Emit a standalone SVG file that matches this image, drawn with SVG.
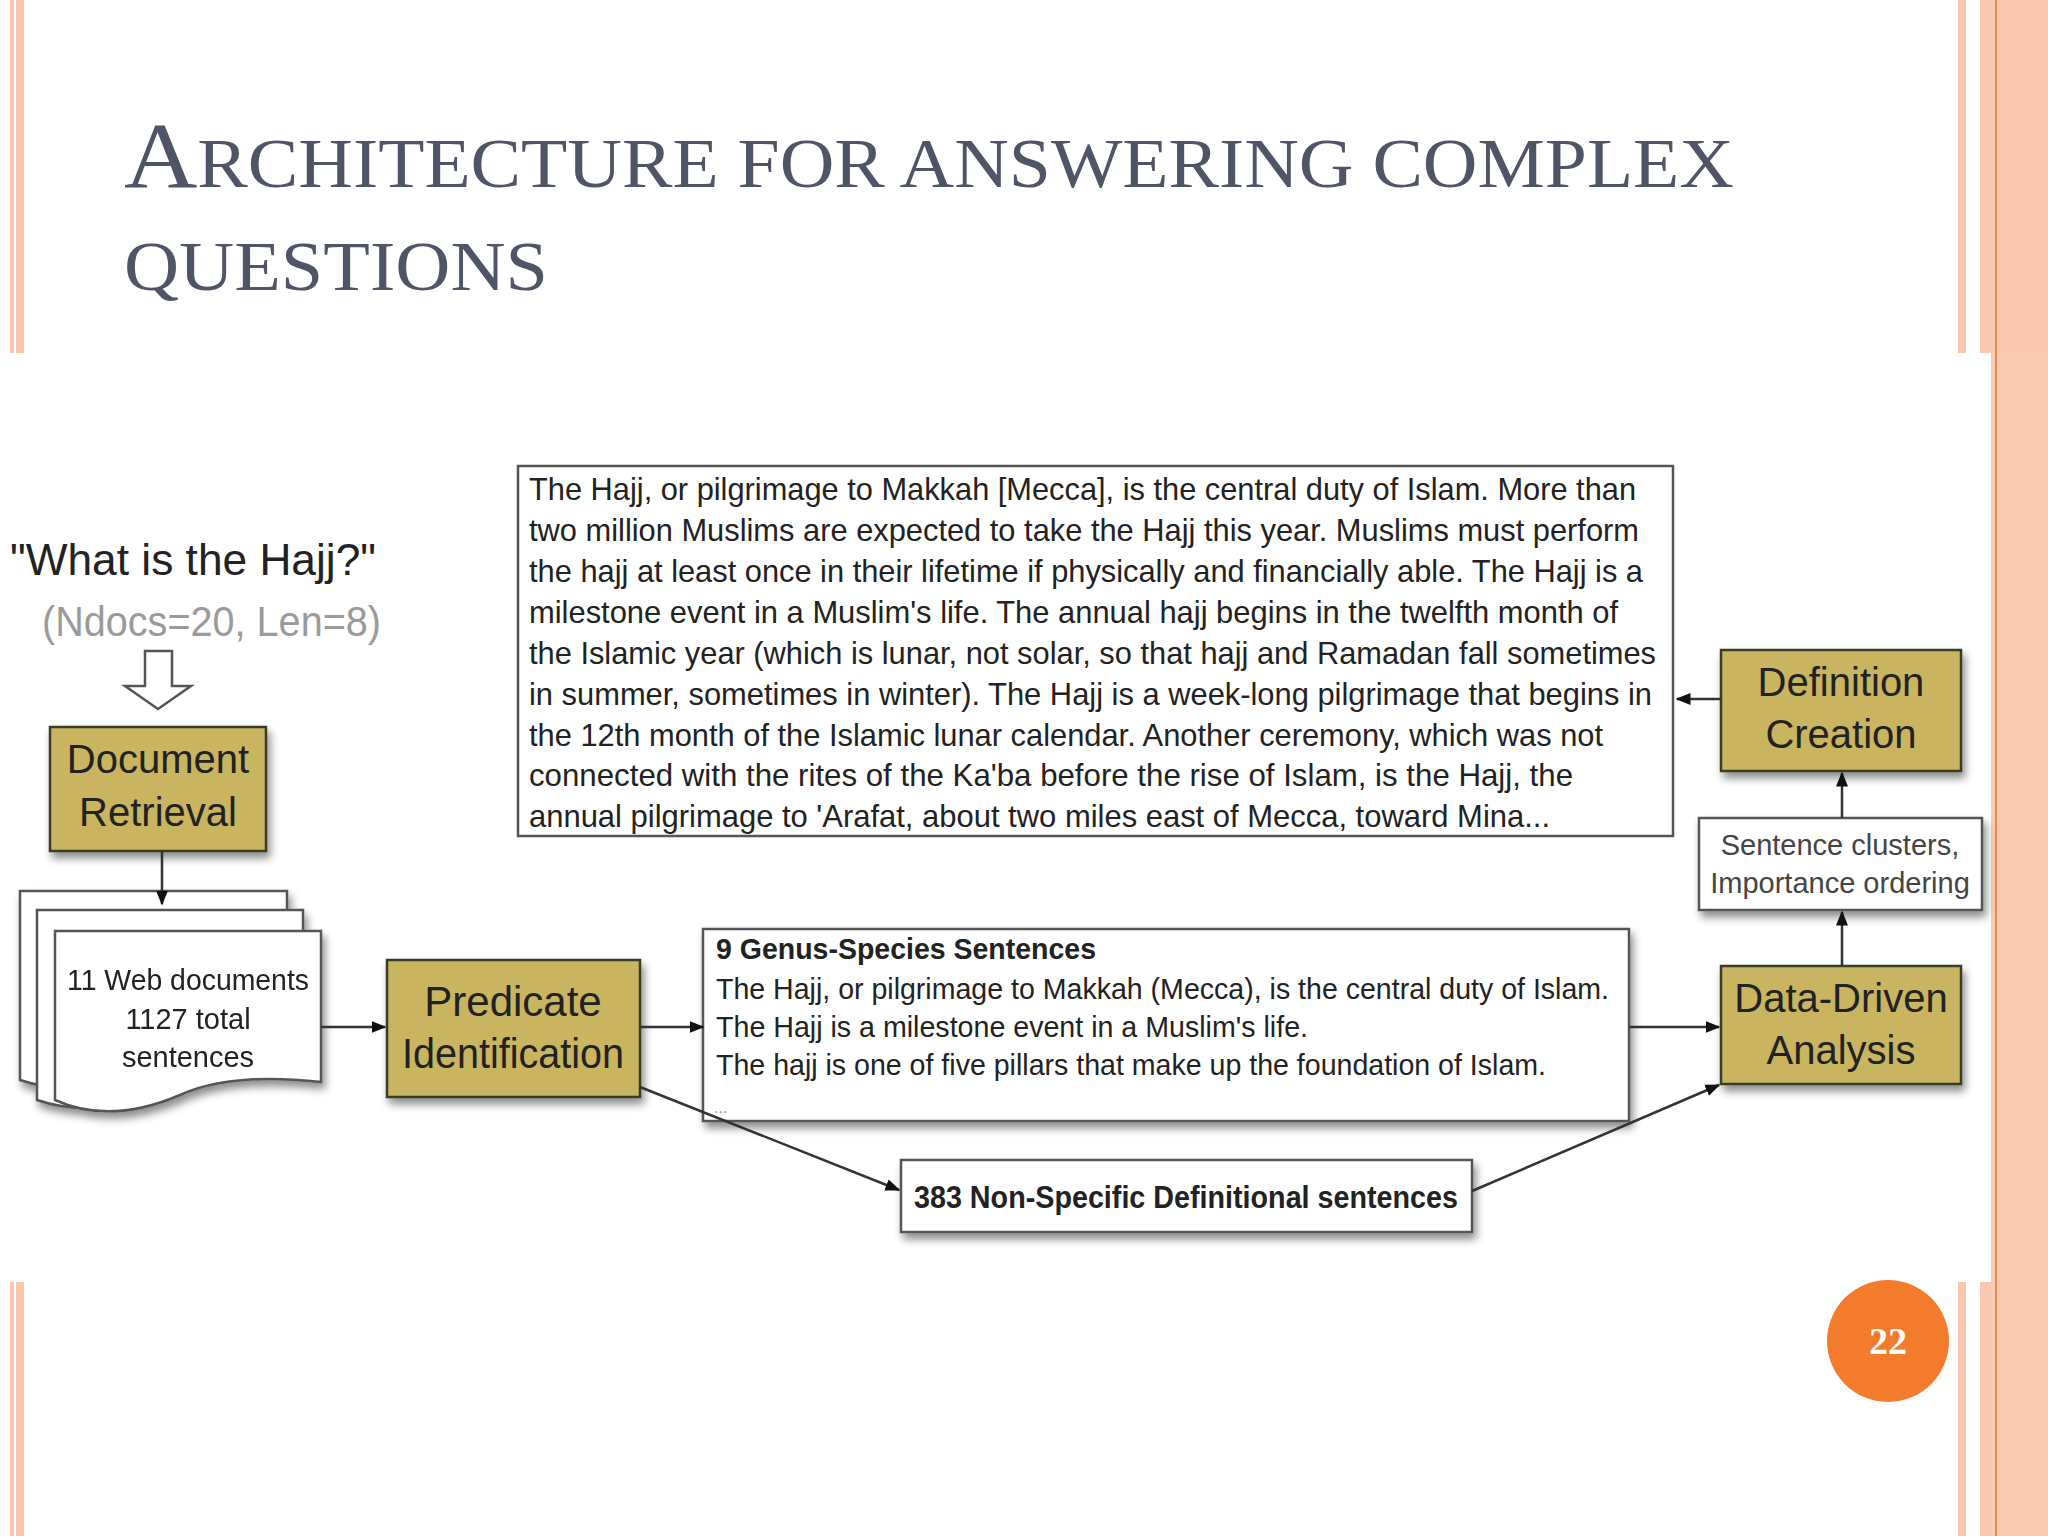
<svg xmlns="http://www.w3.org/2000/svg" width="2048" height="1536" viewBox="0 0 2048 1536">
<defs>
<style>
.t{font-family:"Liberation Sans",Arial,sans-serif;fill:#222}
.node{fill:#c9b45e;stroke:#3a3a2a;stroke-width:2.5}
.box{fill:#fff;stroke:#555;stroke-width:2.5}
.ln{stroke:#333;stroke-width:2.5;fill:none;marker-end:url(#ah)}
.ttl{font-family:"Liberation Serif","Times New Roman",serif;fill:#4f5566}
</style>
<marker id="ah" viewBox="0 0 10 10" refX="9" refY="5" markerWidth="6" markerHeight="6" orient="auto" markerUnits="strokeWidth"><path d="M0,1 L10,5 L0,9 z" fill="#111"/></marker>
<filter id="sh" x="-10%" y="-10%" width="130%" height="140%"><feDropShadow dx="3" dy="6" stdDeviation="4" flood-color="#000" flood-opacity="0.45"/></filter>
</defs>
<rect width="2048" height="1536" fill="#fff"/>
<g id="frame">
<rect x="10" y="0" width="4" height="353" fill="#fbc5ae"/>
<rect x="16" y="0" width="8" height="353" fill="#fbc5ae"/>
<rect x="10" y="1282" width="4" height="254" fill="#fbc5ae"/>
<rect x="16" y="1282" width="8" height="254" fill="#fbc5ae"/>
<rect x="1958" y="0" width="8" height="353" fill="#fbc5ae"/>
<rect x="1980" y="0" width="68" height="353" fill="#fbc9b2"/>
<rect x="1958" y="1282" width="8" height="254" fill="#fbc5ae"/>
<rect x="1991" y="353" width="57" height="1183" fill="#fbcbb6"/>
<rect x="1980" y="1282" width="11" height="254" fill="#fbc9b2"/>
<rect x="1995" y="0" width="2" height="1536" fill="#f08a4a"/>
</g>
<g id="title">
<text class="ttl" x="124" y="187" font-size="94" textLength="1610" lengthAdjust="spacingAndGlyphs">A<tspan font-size="70">RCHITECTURE FOR ANSWERING COMPLEX</tspan></text>
<text class="ttl" x="124" y="290" font-size="70" textLength="424" lengthAdjust="spacingAndGlyphs">QUESTIONS</text>
</g>
<g id="page"><circle cx="1888" cy="1341" r="61" fill="#f47b2b"/><text x="1888" y="1354" text-anchor="middle" font-family="Liberation Serif,serif" font-weight="bold" font-size="38" fill="#fff">22</text></g>

<g id="question">
<text class="t" x="10" y="575" font-size="44" textLength="366" lengthAdjust="spacingAndGlyphs">"What is the Hajj?"</text>
<text class="t" x="42" y="636" font-size="42" style="fill:#9a9a9a" textLength="339" lengthAdjust="spacingAndGlyphs">(Ndocs=20, Len=8)</text>
<path d="M145,651 H172 V686 H191 L158,709 L125,686 H145 Z" fill="#fff" stroke="#555" stroke-width="2.5"/>
</g>

<g id="docret"><rect class="node" x="50" y="727" width="216" height="124" filter="url(#sh)"/>
<text class="t" x="158" y="773" font-size="40" text-anchor="middle">Document</text>
<text class="t" x="158" y="826" font-size="40" text-anchor="middle">Retrieval</text></g>

<g id="docs" filter="url(#sh)">
<path class="box" d="M20,891 H287 V1060 Q200,1040 150,1070 Q80,1100 20,1080 Z"/>
<path class="box" d="M37,910 H303 V1080 Q216,1060 166,1090 Q96,1120 37,1100 Z"/>
<path class="box" d="M55,931 H321 V1082 Q230,1072 180,1095 Q110,1125 55,1100 Z"/>
<text class="t" x="188" y="990" font-size="29" text-anchor="middle" textLength="242" lengthAdjust="spacingAndGlyphs">11 Web documents</text>
<text class="t" x="188" y="1029" font-size="29" text-anchor="middle">1127 total</text>
<text class="t" x="188" y="1067" font-size="29" text-anchor="middle">sentences</text>
</g>

<g id="pred"><rect class="node" x="387" y="960" width="253" height="137" filter="url(#sh)"/>
<text class="t" x="513" y="1016" font-size="42" text-anchor="middle">Predicate</text>
<text class="t" x="513" y="1068" font-size="42" text-anchor="middle" textLength="222" lengthAdjust="spacingAndGlyphs">Identification</text></g>

<g id="genus"><rect class="box" x="703" y="929" width="926" height="192" filter="url(#sh)"/>
<text class="t" x="716" y="959" font-size="30" font-weight="bold" textLength="380" lengthAdjust="spacingAndGlyphs">9 Genus-Species Sentences</text>
<text class="t" x="716" y="999" font-size="30" textLength="893" lengthAdjust="spacingAndGlyphs">The Hajj, or pilgrimage to Makkah (Mecca), is the central duty of Islam.</text>
<text class="t" x="716" y="1037" font-size="30" textLength="592" lengthAdjust="spacingAndGlyphs">The Hajj is a milestone event in a Muslim's life.</text>
<text class="t" x="716" y="1075" font-size="30" textLength="830" lengthAdjust="spacingAndGlyphs">The hajj is one of five pillars that make up the foundation of Islam.</text>
<text class="t" x="714" y="1113" font-size="16" style="fill:#999">...</text></g>

<g id="nonspec"><rect class="box" x="901" y="1160" width="571" height="72" filter="url(#sh)"/>
<text class="t" x="914" y="1208" font-size="31" font-weight="bold" textLength="544" lengthAdjust="spacingAndGlyphs">383 Non-Specific Definitional sentences</text></g>

<g id="dda"><rect class="node" x="1721" y="966" width="240" height="118" filter="url(#sh)"/>
<text class="t" x="1841" y="1012" font-size="40" text-anchor="middle">Data-Driven</text>
<text class="t" x="1841" y="1064" font-size="40" text-anchor="middle">Analysis</text></g>

<g id="clusters"><rect class="box" x="1699" y="818" width="283" height="92" filter="url(#sh)"/>
<text class="t" x="1840" y="855" font-size="29" text-anchor="middle" style="fill:#444">Sentence clusters,</text>
<text class="t" x="1840" y="893" font-size="29" text-anchor="middle" style="fill:#444">Importance ordering</text></g>

<g id="defc"><rect class="node" x="1721" y="650" width="240" height="121" filter="url(#sh)"/>
<text class="t" x="1841" y="696" font-size="40" text-anchor="middle">Definition</text>
<text class="t" x="1841" y="748" font-size="40" text-anchor="middle">Creation</text></g>

<g id="answer"><rect class="box" x="518" y="466" width="1155" height="370"/>
<g class="t" font-size="32">
<text x="529" y="500" textLength="1107" lengthAdjust="spacingAndGlyphs">The Hajj, or pilgrimage to Makkah [Mecca], is the central duty of Islam. More than</text>
<text x="529" y="541" textLength="1110" lengthAdjust="spacingAndGlyphs">two million Muslims are expected to take the Hajj this year. Muslims must perform</text>
<text x="529" y="582" textLength="1114" lengthAdjust="spacingAndGlyphs">the hajj at least once in their lifetime if physically and financially able. The Hajj is a</text>
<text x="529" y="623" textLength="1089" lengthAdjust="spacingAndGlyphs">milestone event in a Muslim's life. The annual hajj begins in the twelfth month of</text>
<text x="529" y="664" textLength="1127" lengthAdjust="spacingAndGlyphs">the Islamic year (which is lunar, not solar, so that hajj and Ramadan fall sometimes</text>
<text x="529" y="705" textLength="1123" lengthAdjust="spacingAndGlyphs">in summer, sometimes in winter). The Hajj is a week-long pilgrimage that begins in</text>
<text x="529" y="746" textLength="1074" lengthAdjust="spacingAndGlyphs">the 12th month of the Islamic lunar calendar. Another ceremony, which was not</text>
<text x="529" y="786" textLength="1044" lengthAdjust="spacingAndGlyphs">connected with the rites of the Ka'ba before the rise of Islam, is the Hajj, the</text>
<text x="529" y="827" textLength="1021" lengthAdjust="spacingAndGlyphs">annual pilgrimage to 'Arafat, about two miles east of Mecca, toward Mina...</text>
</g></g>

<g id="connectors">
<line class="ln" x1="162" y1="851" x2="162" y2="904"/>
<line class="ln" x1="321" y1="1027" x2="385" y2="1027"/>
<line class="ln" x1="640" y1="1027" x2="703" y2="1027"/>
<line class="ln" x1="1629" y1="1027" x2="1719" y2="1027"/>
<line class="ln" x1="640" y1="1087" x2="899" y2="1190"/>
<line class="ln" x1="1472" y1="1191" x2="1719" y2="1085"/>
<line class="ln" x1="1842" y1="966" x2="1842" y2="912"/>
<line class="ln" x1="1842" y1="818" x2="1842" y2="773"/>
<line class="ln" x1="1721" y1="699" x2="1677" y2="699"/>
</g>
</svg>
